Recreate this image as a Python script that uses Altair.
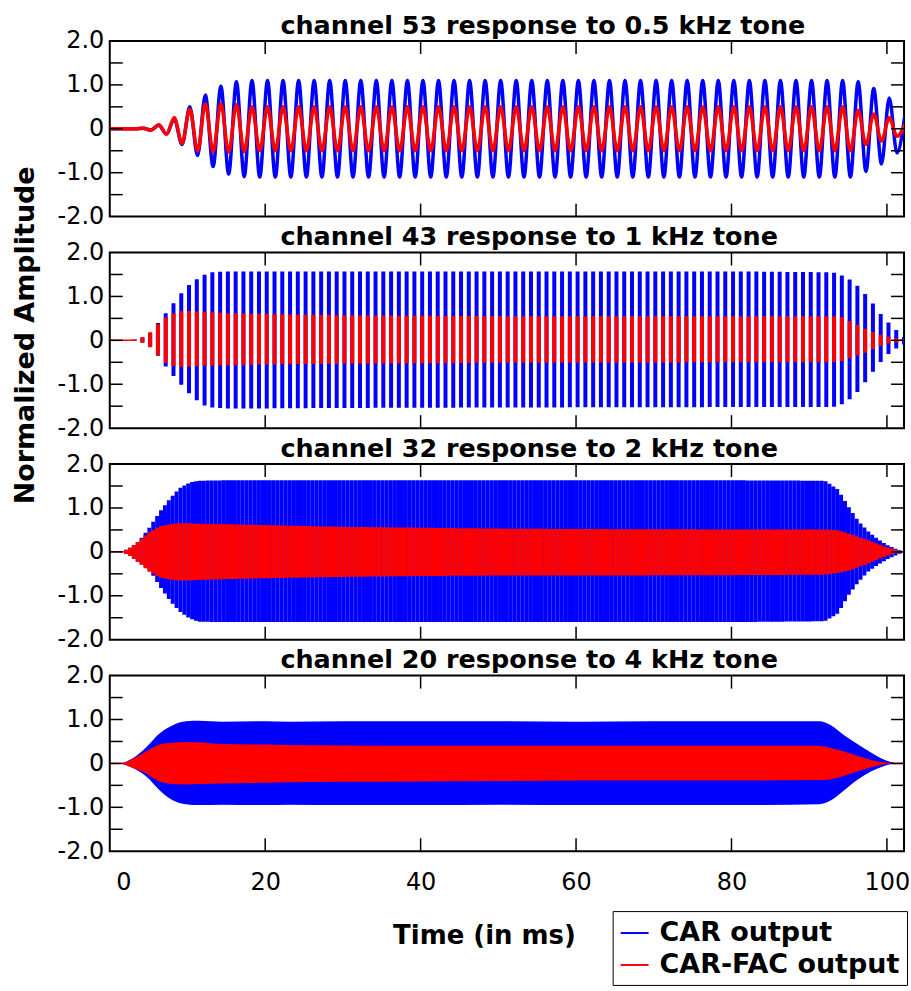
import numpy as np
import pandas as pd
import altair as alt

# ---------------- text / categories ----------------
SERIES = ["CAR output", "CAR-FAC output"]
COLORS = ["#0000ff", "#ff0000"]
TITLES = [
    "channel 53 response to 0.5 kHz tone",
    "channel 43 response to 1 kHz tone",
    "channel 32 response to 2 kHz tone",
    "channel 20 response to 4 kHz tone",
]
TONE_KHZ = [0.5, 1, 2, 4]
X_LABEL_TICKS = [0, 20, 40, 60, 80, 100]
X_INNER_TICKS = [20, 40, 60, 80, 100]
Y_LABEL_TICKS = [-2, -1, 0, 1, 2]
Y_INNER_TICKS = [-1.5, -1, -0.5, 0, 0.5, 1, 1.5]
T_MAX = 102.2

# ---------------- panel 1 (0.5 kHz): peak magnitudes read at envelope knots ----------------
p1_t = [0, 3.3, 4.3, 5.3, 6.3, 7.3, 8.3, 9.3, 10.3, 11.3, 12.3, 13.3, 14.3, 15.3, 16.3, 17.3, 18.3,
        40, 60, 80, 95.3, 96.3, 97.3, 98.3, 99.3, 100.3, 101.3, 102.3]
p1_car = [0, 0, 0.01, 0.03, 0.08, 0.12, 0.22, 0.36, 0.5, 0.61, 0.77, 0.86, 0.97, 1.03, 1.07, 1.09, 1.1,
          1.1, 1.1, 1.1, 1.1, 1.07, 0.97, 0.92, 0.8, 0.7, 0.55, 0.3]
p1_fac = [0, 0, 0.01, 0.03, 0.09, 0.12, 0.25, 0.33, 0.45, 0.5, 0.57, 0.52, 0.57, 0.53, 0.55, 0.52, 0.5,
          0.5, 0.5, 0.5, 0.5, 0.42, 0.36, 0.34, 0.28, 0.25, 0.17, 0.1]
p1_first_peak = 4.3   # first positive peak (ms)

# ---------------- panel 2 (1 kHz) envelopes ----------------
p2_t = [0, 2.8, 4, 5, 6, 7, 8, 9, 10, 11, 12, 13, 15, 20, 30, 50, 80, 93, 94, 95, 96, 97, 98, 99, 100, 101, 102, 102.3]
p2_car_top = [0, 0, 0.05, 0.12, 0.35, 0.57, 0.8, 1.03, 1.23, 1.37, 1.48, 1.55, 1.57, 1.57, 1.57, 1.57, 1.57,
              1.55, 1.49, 1.41, 1.28, 1.1, 0.89, 0.64, 0.44, 0.27, 0.1, 0.06]
p2_car_bot = [0, 0, -0.04, -0.1, -0.3, -0.55, -0.77, -0.97, -1.17, -1.34, -1.47, -1.53, -1.55, -1.55, -1.54, -1.53,
              -1.52, -1.52, -1.48, -1.37, -1.22, -1.0, -0.76, -0.53, -0.34, -0.2, -0.12, -0.08]
p2_fac_top = [0, 0, 0.05, 0.15, 0.33, 0.5, 0.6, 0.66, 0.67, 0.66, 0.65, 0.64, 0.62, 0.6, 0.57, 0.55, 0.55,
              0.55, 0.54, 0.46, 0.37, 0.28, 0.2, 0.14, 0.09, 0.05, 0.03, 0.02]
p2_fac_bot = [0, 0, -0.04, -0.12, -0.3, -0.5, -0.58, -0.6, -0.6, -0.59, -0.58, -0.58, -0.57, -0.55, -0.53, -0.51,
              -0.5, -0.5, -0.48, -0.42, -0.36, -0.3, -0.22, -0.14, -0.08, -0.05, -0.03, -0.02]
p2_first_cycle = 3.2

# ---------------- panel 3 (2 kHz) envelopes ----------------
p3_t = [0, 1.5, 2.5, 3.8, 5.1, 6.4, 7.7, 9.0, 10.3, 11.5, 15, 20, 30, 40, 50, 60, 80, 92, 93.7, 95, 96.3,
        97.5, 98.8, 100.1, 101.8, 102.3]
p3_car_top = [0, 0, 0.08, 0.25, 0.55, 0.9, 1.2, 1.45, 1.58, 1.62, 1.63, 1.63, 1.63, 1.63, 1.63, 1.63, 1.63,
              1.62, 1.42, 1.04, 0.7, 0.48, 0.29, 0.15, 0.02, 0]
p3_car_bot = [0, 0, -0.08, -0.25, -0.4, -0.77, -1.1, -1.36, -1.52, -1.59, -1.6, -1.6, -1.6, -1.6, -1.6, -1.6,
              -1.6, -1.58, -1.4, -1.0, -0.69, -0.46, -0.3, -0.16, -0.03, 0]
p3_fac_top = [0, 0, 0.08, 0.25, 0.45, 0.58, 0.63, 0.65, 0.65, 0.64, 0.63, 0.61, 0.57, 0.55, 0.53, 0.52, 0.51,
              0.51, 0.49, 0.42, 0.34, 0.27, 0.18, 0.1, 0.02, 0]
p3_fac_bot = [0, 0, -0.08, -0.25, -0.45, -0.58, -0.63, -0.65, -0.65, -0.64, -0.62, -0.6, -0.57, -0.55, -0.54,
              -0.54, -0.53, -0.52, -0.48, -0.43, -0.35, -0.27, -0.17, -0.08, 0, 0]
p3_first_cycle = 1.6

# ---------------- panel 4 (4 kHz) envelopes ----------------
p4_t = [0, 1.2, 2.9, 4.7, 6.4, 8.1, 9.8, 11.5, 14.5, 20, 23, 30, 40, 50, 60, 70, 80, 91.3, 92.8, 94.5, 96.3,
        98, 99.3, 100.5, 101.5, 102.3]
p4_car_top = [0, 0, 0.11, 0.37, 0.68, 0.87, 0.96, 0.97, 0.95, 0.96, 0.95, 0.96, 0.96, 0.96, 0.95, 0.96, 0.96,
              0.96, 0.87, 0.64, 0.43, 0.24, 0.11, 0.03, 0, 0]
p4_car_bot = [0, 0, -0.1, -0.3, -0.61, -0.84, -0.93, -0.95, -0.94, -0.95, -0.94, -0.95, -0.95, -0.94, -0.95,
              -0.95, -0.95, -0.93, -0.84, -0.61, -0.36, -0.18, -0.08, -0.02, 0, 0]
p4_fac_top = [0, 0, 0.1, 0.27, 0.43, 0.47, 0.49, 0.48, 0.44, 0.43, 0.42, 0.41, 0.4, 0.4, 0.4, 0.4, 0.4,
              0.4, 0.35, 0.27, 0.17, 0.08, 0.03, 0.01, 0, 0]
p4_fac_bot = [0, 0, -0.1, -0.23, -0.41, -0.47, -0.48, -0.47, -0.46, -0.44, -0.43, -0.42, -0.41, -0.4, -0.39,
              -0.39, -0.39, -0.38, -0.36, -0.28, -0.18, -0.09, -0.03, -0.01, 0, 0]

# silent stretches (flat trace at zero) at the start / end of panels 2-4
SILENT = {1: [(0, 3.0), (101.6, T_MAX)], 2: [(0, 1.6), (101.6, T_MAX)], 3: [(0, 1.3), (100.6, T_MAX)]}

# ---------------- layout ----------------
W, H = 796, 176
TICK = 13
FONT = "DejaVu Sans"

xscale = alt.Scale(domain=[0, T_MAX], nice=False, zero=False)
yscale = alt.Scale(domain=[-2, 2], nice=False)
cscale = alt.Scale(domain=SERIES, range=COLORS)

LEGEND = alt.Legend(
    title=None, orient="none", legendX=504, legendY=872, direction="vertical",
    symbolType="stroke", symbolSize=784, symbolStrokeWidth=2,
    labelFont=FONT, labelFontSize=27, labelFontWeight="bold", labelColor="black",
    labelOffset=10, rowPadding=4, padding=7, strokeColor="black",
    fillColor="white", cornerRadius=0, labelLimit=400,
)
COLOR = alt.Color("series:N", scale=cscale, legend=LEGEND)

Y_AXIS = alt.Axis(
    values=Y_LABEL_TICKS, ticks=False, domain=False, grid=False, title=None,
    labelExpr="datum.value == 0 ? '0' : (datum.value < 0 ? '-' : '') + format(abs(datum.value), '.1f')",
    labelFont=FONT, labelFontSize=24, labelColor="black", labelPadding=6,
)
X_AXIS_BOTTOM = alt.Axis(
    values=X_LABEL_TICKS, ticks=False, domain=False, grid=False, labelFlush=True, labelFlushOffset=-6,
    labelFont=FONT, labelFontSize=24, labelColor="black", labelPadding=19,
    title="Time (in ms)", titleFont=FONT, titleFontSize=26, titleFontWeight="bold",
    titleColor="black", titleX=375, titleY=92, titleAlign="center", titleBaseline="alphabetic",
)


def x_enc(field, bottom):
    if bottom:
        return alt.X(field, scale=xscale, axis=X_AXIS_BOTTOM)
    return alt.X(field, scale=xscale, axis=None)


def y_enc(field):
    return alt.Y(field, scale=yscale, axis=Y_AXIS)


def frame_ticks(bottom):
    ydf = pd.DataFrame({"v": Y_INNER_TICKS})
    xdf = pd.DataFrame({"v": X_INNER_TICKS})
    common = dict(color="black", strokeWidth=1.5)
    yl = alt.Chart(ydf).mark_rule(**common).encode(
        y=y_enc("v:Q"), x=alt.value(0), x2=alt.value(TICK))
    yr = alt.Chart(ydf).mark_rule(**common).encode(
        y=y_enc("v:Q"), x=alt.value(W - TICK), x2=alt.value(W))
    xt = alt.Chart(xdf).mark_rule(**common).encode(
        x=x_enc("v:Q", bottom), y=alt.value(0), y2=alt.value(TICK))
    xb = alt.Chart(xdf).mark_rule(**common).encode(
        x=x_enc("v:Q", bottom), y=alt.value(H - TICK), y2=alt.value(H))
    return [yl, yr, xt, xb]


def title_params(text):
    return alt.TitleParams(text=text, font=FONT, fontSize=25.5, fontWeight="bold", color="black",
                           anchor="start", frame="group", dx=171, offset=-30, baseline="alphabetic")


def envelope_at(t, knots, vals):
    return np.interp(t, knots, vals)


panels = []

# ----- panel 1: sinusoidal trace through alternating peaks -----
peak_t = np.arange(p1_first_peak, T_MAX + 0.2, 1.0 / (2 * TONE_KHZ[0]))
signs = np.where(np.arange(len(peak_t)) % 2 == 0, 1.0, -1.0)
rows = []
for s, amps in zip(SERIES, [p1_car, p1_fac]):
    rows.append({"series": s, "t": 0.0, "v": 0.0})
    rows.append({"series": s, "t": p1_t[1], "v": 0.0})
    for tt, sg in zip(peak_t, signs):
        rows.append({"series": s, "t": float(tt), "v": float(sg * envelope_at(tt, p1_t, amps))})
df1 = pd.DataFrame(rows)

# ----- panels 2, 3: one vertical stroke per cycle; panel 4: filled band -----
env = {
    1: (p2_t, p2_car_top, p2_car_bot, p2_fac_top, p2_fac_bot, p2_first_cycle),
    2: (p3_t, p3_car_top, p3_car_bot, p3_fac_top, p3_fac_bot, p3_first_cycle),
    3: (p4_t, p4_car_top, p4_car_bot, p4_fac_top, p4_fac_bot, None),
}

for i in range(4):
    bottom = i == 3
    layers = []
    if i == 0:
        layers.append(
            alt.Chart(df1).mark_line(interpolate="monotone", strokeWidth=3.5, clip=True).encode(
                x=x_enc("t:Q", bottom), y=y_enc("v:Q"),
                color=COLOR, detail="series:N", order=alt.Order("t:Q"),
            )
        )
    else:
        knots, ct, cb, ft, fb, first = env[i]
        sil = []
        for k, (a, b) in enumerate(SILENT[i]):
            sil += [{"series": SERIES[1], "seg": k, "t": a, "v": 0.0},
                    {"series": SERIES[1], "seg": k, "t": b, "v": 0.0}]
        sdf = pd.DataFrame(sil)
        if first is not None:
            cyc = np.arange(first, T_MAX + 0.01, 1.0 / TONE_KHZ[i])
            brows = []
            for s, top, bot in [(SERIES[0], ct, cb), (SERIES[1], ft, fb)]:
                for tt in cyc:
                    brows.append({"series": s, "t": float(tt),
                                  "top": float(envelope_at(tt, knots, top)),
                                  "bot": float(envelope_at(tt, knots, bot))})
            bdf = pd.DataFrame(brows)
            sw = 4 if i == 1 else 4
            layers.append(
                alt.Chart(bdf).mark_rule(strokeWidth=sw, clip=True).encode(
                    x=x_enc("t:Q", bottom), y=y_enc("top:Q"), y2="bot:Q", color=COLOR,
                )
            )
        else:
            arows = []
            for s, top, bot in [(SERIES[0], ct, cb), (SERIES[1], ft, fb)]:
                for tt, a, b in zip(knots, top, bot):
                    arows.append({"series": s, "t": tt, "top": a, "bot": b})
            adf = pd.DataFrame(arows)
            layers.append(
                alt.Chart(adf).mark_area(interpolate="monotone", clip=True, opacity=1).encode(
                    x=x_enc("t:Q", bottom), y=y_enc("top:Q"), y2="bot:Q",
                    color=COLOR, detail="series:N", order=alt.Order("series:N"),
                )
            )
        layers.append(
            alt.Chart(sdf).mark_line(strokeWidth=1.5, clip=True).encode(
                x=x_enc("t:Q", bottom), y=y_enc("v:Q"), color=COLOR, detail="seg:N",
            )
        )
    layers += frame_ticks(bottom)
    panels.append(
        alt.layer(*layers).properties(width=W, height=H, title=title_params(TITLES[i]))
    )

chart = (
    alt.vconcat(*panels, spacing=36, bounds="flush")
    .resolve_scale(color="shared")
    .properties(
        padding={"left": 12, "top": 11, "right": 0, "bottom": 0},
        title=alt.TitleParams(text="Normalized Amplitude", orient="left", anchor="middle",
                              font=FONT, fontSize=27, fontWeight="bold", color="black",
                              offset=16, dx=164),
    )
    .configure_view(stroke="black", strokeWidth=2)
)

chart.save("out.html", embed_options={"renderer": "svg", "actions": False})
